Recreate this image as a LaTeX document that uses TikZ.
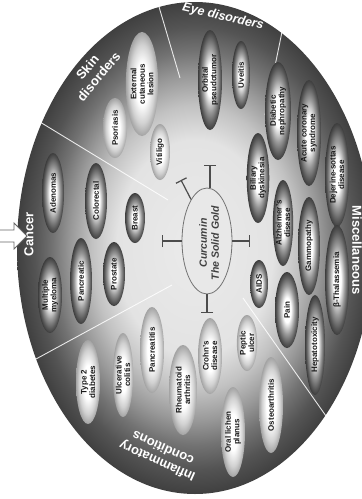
\documentclass[tikz,border=0pt]{standalone}
\usepackage{fontspec}
\setmainfont{Liberation Sans}
\usepackage{graphicx}
\usetikzlibrary{shapes.geometric,arrows.meta}
\pgfdeclareradialshading{disk}{\pgfpoint{0bp}{0bp}}{color(0bp)=(black!8); color(11bp)=(black!11); color(14.5bp)=(black!24); color(17.5bp)=(black!40); color(20bp)=(black!55); color(22.5bp)=(black!67); color(25bp)=(black!75); color(50bp)=(black!75)}
\pgfdeclareradialshading{darkit}{\pgfpoint{0bp}{0bp}}{color(0bp)=(white); color(8bp)=(white); color(16bp)=(black!40); color(22bp)=(black!65); color(25bp)=(black!76); color(50bp)=(black!76)}
\pgfdeclareradialshading{lightit}{\pgfpoint{0bp}{0bp}}{color(0bp)=(white); color(10bp)=(white); color(19bp)=(black!18); color(25bp)=(black!36); color(50bp)=(black!36)}
\tikzset{
  item/.style={ellipse, inner sep=0pt, outer sep=0pt, rotate=90, align=center, text=black!90, font=\fontsize{8}{8.5}\selectfont\bfseries},
  dk/.style={item, shading=darkit},
  lt/.style={item, shading=lightit},
  sector/.style={text=white, font=\fontsize{13}{14.5}\selectfont\bfseries, align=center},
  tbar/.style={draw=black!70, line width=1.2pt, -{Bar[width=12pt,line width=1.2pt]}},
  divider/.style={draw=white, line width=0.9pt, opacity=0.85},
}
\newcommand\itm[7]{\node[#6, minimum width=#5*2pt, minimum height=#4*2pt] (#1) at (#2,#3) {#7};}
\begin{document}
\begin{tikzpicture}[x=1pt,y=-1pt]
\useasboundingbox (0,0) rectangle (362,499);
\clip (0,0) rectangle (362,499);
\fill[white] (0,0) rectangle (362,499);
% disk
\path[shading=disk] (195,248) ellipse [x radius=178, y radius=246];
% dividers
\draw[divider] (40,122) -- (168,200);
\draw[divider] (157,0) -- (180,78);
\draw[divider] (284,22) -- (265,115);
\draw[divider] (243,298) -- (326,416);
\draw[divider] (36,359) -- (172,285);
% sector labels
\node[sector, rotate=50] (skin) at (93,72) {Skin\\disorders};
\node[sector, rotate=-13, font=\fontsize{12.5}{13}\selectfont\bfseries\itshape] (eye) at (223,17) {Eye disorders};
\node[sector, rotate=90] (cancer) at (29,234) {Cancer};
\node[sector, rotate=156] (infl) at (160,455) {Inflammatory\\conditions};
\node[sector, rotate=-90] (misc) at (357,250) {Miscellaneous};
% skin
\itm{pso}{115}{128}{12}{30}{lt}{Psoriasis}
\itm{ext}{142}{84}{15}{52}{lt}{External\\cutaneous\\lesion}
\itm{vit}{160}{152}{10}{28}{lt}{Vitiligo}
% eye
\itm{orb}{210}{80}{12}{50}{dk}{Orbital\\pseudotumor}
\itm{uve}{241}{75}{9}{34}{dk}{Uveitis}
% miscellaneous
\itm{dia}{278}{111}{13}{49}{dk}{Diabetic\\nephropathy}
\itm{acs}{309}{133}{12}{53}{dk}{Acute coronary\\syndrome}
\itm{dej}{337}{175}{12}{52}{dk}{Dejerine-sottas\\disease}
\itm{bil}{258}{178}{10}{45}{dk}{Biliary\\dyskinesia}
\itm{alz}{283}{223}{10}{43}{dk}{Alzheimer's\\disease}
\itm{gam}{309}{246}{11}{49}{dk}{Gammopathy}
\itm{tha}{337}{280}{12}{55}{dk}{β-Thalassemia}
\itm{aids}{259}{284}{9}{24}{dk}{AIDS}
\itm{pain}{287}{310}{12}{38}{dk}{Pain}
\itm{hep}{315}{345}{10}{50}{dk}{Hepatotoxicity}
% inflammatory
\itm{t2d}{88}{382}{12}{42}{lt}{Type 2\\diabetes}
\itm{ulc}{123}{375}{10}{42}{lt}{Ulcerative\\colitis}
\itm{pct}{152}{350}{12}{43}{lt}{Pancreatitis}
\itm{rhe}{183}{390}{14}{45}{lt}{Rheumatoid\\arthritis}
\itm{cro}{210}{356}{12}{38}{lt}{Crohn's\\disease}
\itm{pep}{247}{343}{9}{28}{lt}{Peptic\\ulcer}
\itm{olp}{233}{432}{12}{45}{lt}{Oral lichen\\planus}
\itm{ost}{271}{405}{12}{48}{lt}{Osteoarthritis}
% cancer
\itm{ade}{53}{193}{11}{40}{dk}{Adenomas}
\itm{col}{96}{201}{11}{38}{dk}{Colorectal}
\itm{bre}{135}{218}{10}{25}{dk}{Breast}
\itm{mm}{50}{295}{12}{38}{dk}{Multiple\\myeloma}
\itm{pan}{81}{281}{11}{43}{dk}{Pancreatic}
\itm{pro}{114}{274}{11}{32}{dk}{Prostate}
% centre
\node[ellipse, draw=black!55, fill=black!9, line width=0.8pt, minimum width=50pt, minimum height=106pt, inner sep=0pt] (cur) at (207,241) {};
\node[rotate=90, align=center, text=black!75, font=\fontsize{10.5}{12}\selectfont\bfseries\itshape] (curtxt) at (209,243) {Curcumin\\The Solid Gold};
\coordinate (tL) at (162,241);
\coordinate (tR) at (250,241);
\coordinate (tT) at (210,165);
\coordinate (tD) at (207,313);
\coordinate (tTL) at (181,180);
\draw[tbar] (cur.west) -- (tL);
\draw[tbar] (cur.east) -- (tR);
\draw[tbar] (tT |- cur.north) -- (tT);
\draw[tbar] (cur.south) -- (tD);
\draw[tbar] (cur.111) -- (tTL);
% arrow
\draw[fill=white, draw=black!60, line width=0.8pt] (-2,230) -- (14,230) -- (14,223) -- (27,236) -- (14,249) -- (14,242) -- (-2,242) -- cycle;
\end{tikzpicture}
\end{document}
